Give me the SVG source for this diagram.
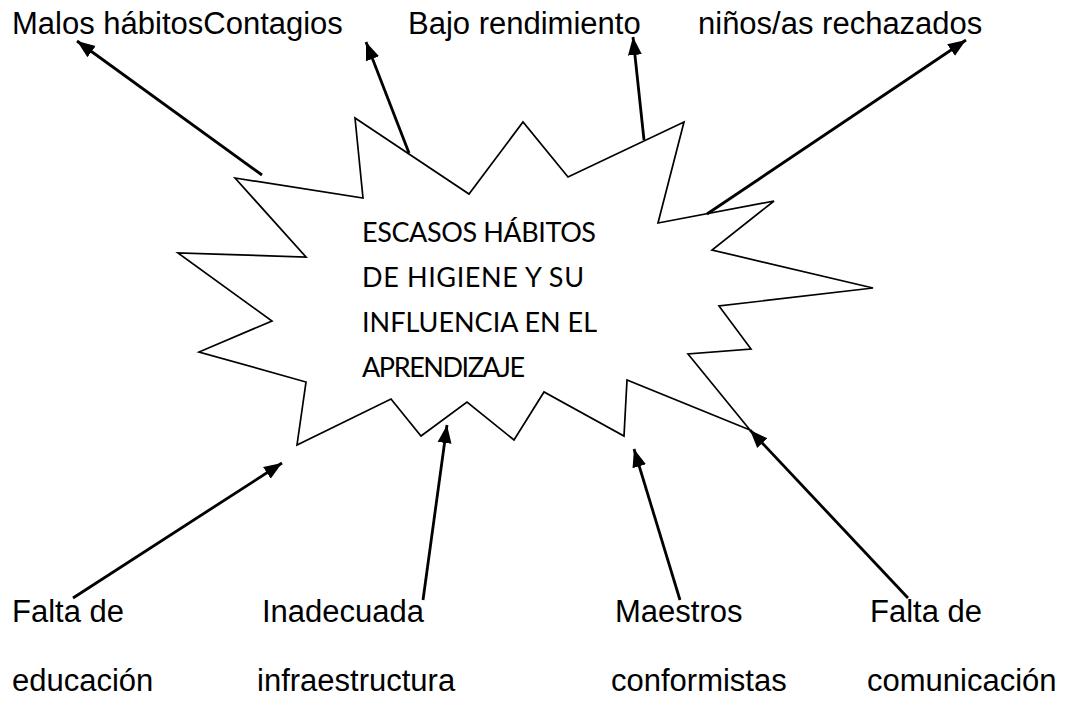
<svg xmlns="http://www.w3.org/2000/svg" width="1067" height="726" viewBox="0 0 1067 726">
  <style>
    .lbl { font-family: "Liberation Sans", Arial, sans-serif; font-size: 31px; fill: #000; }
    .ctr { font-family: Lato, "Open Sans", "Liberation Sans", sans-serif; font-size: 27px; fill: #000; }
    .star { fill: #fff; stroke: #000; stroke-width: 1.7; stroke-linejoin: miter; }
    .arr { stroke: #000; stroke-width: 2.8; fill: none; marker-end: url(#ah); }
  </style>
  <defs>
    <marker id="ah" markerUnits="userSpaceOnUse" markerWidth="20" markerHeight="18" viewBox="0 0 20 18" refX="18" refY="9" orient="auto">
      <path d="M0,2 L18,9 L0,16 Z" fill="#000"/>
    </marker>
  </defs>
  <rect width="1067" height="726" fill="#fff"/>

  <g id="node-center">
    <polygon class="star" points="235,178 363,198 355,118 469,194 523,122 568,177 684,122 658,223 774,201 712,250 873,288 719,306 751,349 688,354 750,430 627,380 624,436 544,392 514,440 467,402 421,436 391,399 297,445 306,382 199,352 272,321 178,253 306,257"/>
    <text class="ctr" x="362" y="242" textLength="234">ESCASOS HÁBITOS</text>
    <text class="ctr" x="362" y="287" textLength="222">DE HIGIENE Y SU</text>
    <text class="ctr" x="362" y="332" textLength="235">INFLUENCIA EN EL</text>
    <text class="ctr" x="362" y="377" textLength="163">APRENDIZAJE</text>
  </g>

  <g id="node-malos-contagios"><text class="lbl" x="12" y="34">Malos hábitosContagios</text></g>
  <g id="node-bajo"><text class="lbl" x="408" y="34">Bajo rendimiento</text></g>
  <g id="node-ninos"><text class="lbl" x="698" y="34">niños/as rechazados</text></g>

  <g id="node-falta-educacion">
    <text class="lbl" x="12" y="622">Falta de</text>
    <text class="lbl" x="12" y="691">educación</text>
  </g>
  <g id="node-inadecuada">
    <text class="lbl" x="262" y="622">Inadecuada</text>
    <text class="lbl" x="257" y="691">infraestructura</text>
  </g>
  <g id="node-maestros">
    <text class="lbl" x="615" y="622">Maestros</text>
    <text class="lbl" x="611" y="691">conformistas</text>
  </g>
  <g id="node-falta-comunicacion">
    <text class="lbl" x="870" y="622">Falta de</text>
    <text class="lbl" x="867" y="691">comunicación</text>
  </g>

  <g id="connectors">
    <line class="arr" x1="262" y1="175" x2="77" y2="41"/>
    <line class="arr" x1="409" y1="153" x2="366" y2="42"/>
    <line class="arr" x1="644" y1="140" x2="633" y2="37"/>
    <line class="arr" x1="707" y1="214" x2="966" y2="40"/>
    <line class="arr" x1="73" y1="598" x2="282" y2="463"/>
    <line class="arr" x1="423" y1="600" x2="447" y2="425"/>
    <line class="arr" x1="680" y1="600" x2="634" y2="449"/>
    <line class="arr" x1="908" y1="598" x2="750" y2="430"/>
  </g>
</svg>
